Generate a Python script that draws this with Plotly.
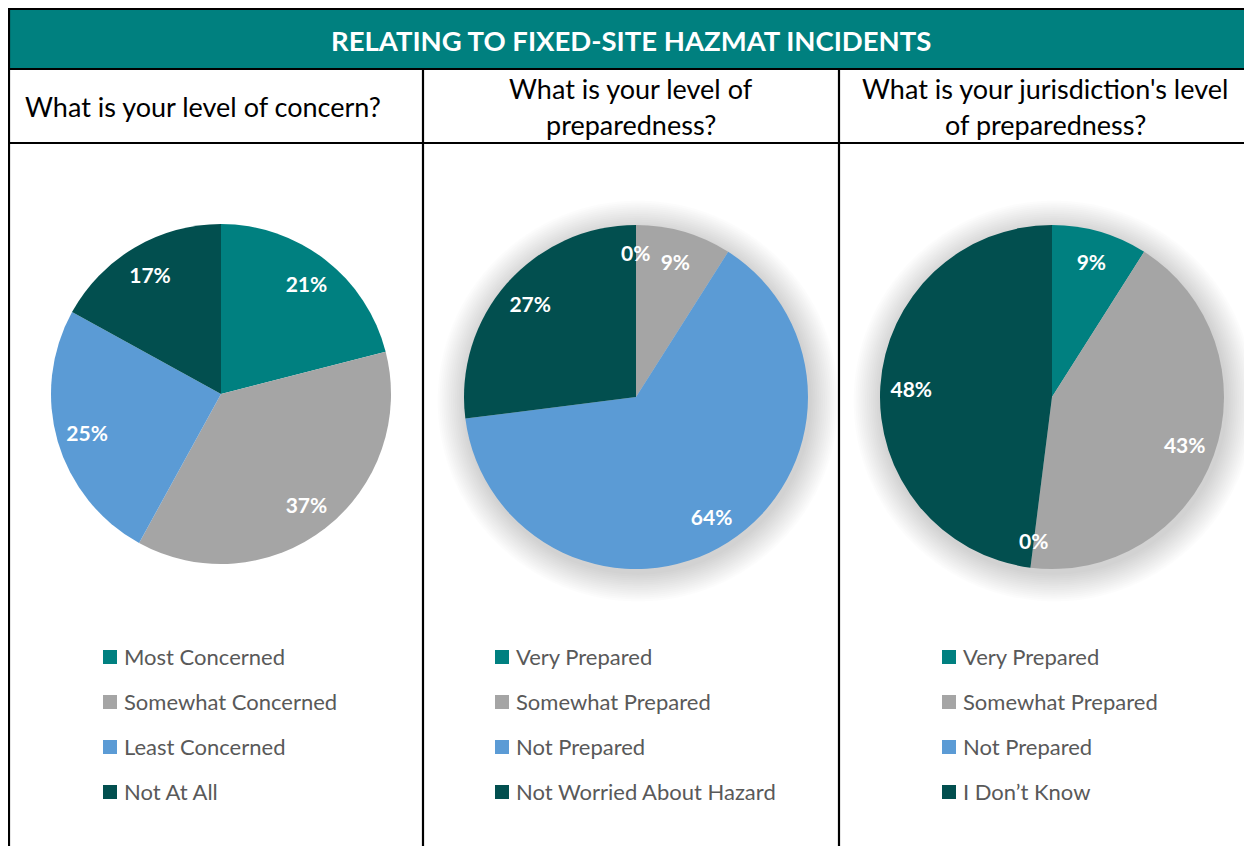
import math
import plotly.graph_objects as go

# page body has an 8px margin: the figure sits at (8, 8)
OFF = 8
W, H = 1244, 838

title_text = "RELATING TO FIXED-SITE HAZMAT INCIDENTS"
questions = [
    ["What is your level of concern?"],
    ["What is your level of", "preparedness?"],
    ["What is your jurisdiction's level", "of preparedness?"],
]

labels_concern = ["Most Concerned", "Somewhat Concerned", "Least Concerned", "Not At All"]
values_concern = [21, 37, 25, 17]

labels_personal = ["Very Prepared", "Somewhat Prepared", "Not Prepared", "Not Worried About Hazard"]
values_personal = [0, 9, 64, 27]

labels_jurisdiction = ["Very Prepared", "Somewhat Prepared", "Not Prepared", "I Don\u2019t Know"]
values_jurisdiction = [9, 43, 0, 48]

colors = ["#008080", "#A5A5A5", "#5B9BD5", "#024F4F"]

FONT = "Lato"


def px(x):
    return (x - OFF) / W


def py(y):
    return 1 - (y - OFF) / H


fig = go.Figure()

pies = [
    dict(labels=labels_concern, values=values_concern, cx=221, cy=394, r=170, shadow=False),
    dict(labels=labels_personal, values=values_personal, cx=636, cy=397, r=172, shadow=True),
    dict(labels=labels_jurisdiction, values=values_jurisdiction, cx=1052, cy=397, r=172, shadow=True),
]

shapes = []
for p in pies:
    if not p["shadow"]:
        continue
    for k in range(15, 0, -1):
        rr = p["r"] + k * 1.9
        ox, oy = 2, 4
        shapes.append(dict(
            type="circle", xref="paper", yref="paper", layer="below",
            x0=px(p["cx"] + ox - rr), x1=px(p["cx"] + ox + rr),
            y0=py(p["cy"] + oy + rr), y1=py(p["cy"] + oy - rr),
            fillcolor="rgba(0,0,0,0.01)", line=dict(width=0),
        ))

annotations = []
LABEL_FONT = dict(family=FONT, size=21, color="white", weight="bold")

for p in pies:
    dom = dict(x=[px(p["cx"] - p["r"]), px(p["cx"] + p["r"])],
               y=[py(p["cy"] + p["r"]), py(p["cy"] - p["r"])])
    # coloured slices
    fig.add_trace(go.Pie(
        labels=p["labels"], values=p["values"],
        sort=False, direction="clockwise", rotation=0,
        marker=dict(colors=colors, line=dict(width=0)),
        textinfo="none", domain=dom, showlegend=False,
        hoverinfo="label+percent",
    ))
    # transparent ring carrying the percentage labels further out
    fig.add_trace(go.Pie(
        labels=p["labels"], values=p["values"], hole=0.64,
        sort=False, direction="clockwise", rotation=0,
        marker=dict(colors=["rgba(0,0,0,0)"] * len(p["values"]), line=dict(width=0)),
        texttemplate="%{percent:.0%}", textposition="inside",
        insidetextorientation="horizontal", textfont=LABEL_FONT,
        domain=dom, showlegend=False, hoverinfo="skip",
    ))
    # zero-valued slices: label at their (degenerate) angle
    total = sum(p["values"])
    cum = 0
    for v in p["values"]:
        if v == 0:
            ang = math.radians(cum / total * 360)
            rr = 0.84 * p["r"]
            annotations.append(dict(
                text="0%", x=px(p["cx"] + rr * math.sin(ang)), y=py(p["cy"] - rr * math.cos(ang)),
                xref="paper", yref="paper", showarrow=False,
                xanchor="center", yanchor="middle", font=LABEL_FONT))
        cum += v

# table frame
shapes.append(dict(type="rect", xref="paper", yref="paper", layer="below",
                   x0=px(8), x1=px(1253), y0=py(69), y1=py(9),
                   fillcolor="#00807F", line=dict(width=0)))
lw = 2.2
for (x0, y0, x1, y1) in [(8, 9, 1253, 9), (8, 69, 1253, 69), (8, 143, 1253, 143),
                         (9, 8, 9, 847), (423, 69, 423, 847), (839, 69, 839, 847)]:
    shapes.append(dict(type="line", xref="paper", yref="paper",
                       x0=px(x0), x1=px(x1), y0=py(y0), y1=py(y1),
                       line=dict(color="black", width=lw)))

annotations.append(dict(text=title_text, x=px(631), y=py(40), xref="paper", yref="paper",
                        showarrow=False, xanchor="center", yanchor="middle",
                        font=dict(family=FONT, size=27.5, color="white", weight="bold")))

annotations.append(dict(text=questions[0][0], x=px(23), y=py(107), xref="paper", yref="paper",
                        showarrow=False, xanchor="left", yanchor="middle",
                        font=dict(family=FONT, size=27, color="black")))
for qi, cx in [(1, 631), (2, 1045)]:
    for li, line in enumerate(questions[qi]):
        annotations.append(dict(text=line, x=px(cx), y=py(89 + 36 * li), xref="paper", yref="paper",
                                showarrow=False, xanchor="center", yanchor="middle",
                                font=dict(family=FONT, size=27, color="black")))

legend_x = [103, 495, 942]
for p, lx in zip(pies, legend_x):
    for i, lab in enumerate(p["labels"]):
        yc = 657 + 45 * i
        shapes.append(dict(type="rect", xref="paper", yref="paper",
                           x0=px(lx), x1=px(lx + 14), y0=py(yc + 7), y1=py(yc - 7),
                           fillcolor=colors[i], line=dict(width=0)))
        annotations.append(dict(text=lab, x=px(lx + 19), y=py(yc - 1), xref="paper", yref="paper",
                                showarrow=False, xanchor="left", yanchor="middle",
                                font=dict(family=FONT, size=22, color="#595959")))

fig.update_layout(
    width=W, height=H, margin=dict(l=0, r=0, t=0, b=0),
    paper_bgcolor="white", plot_bgcolor="white",
    shapes=shapes, annotations=annotations, showlegend=False,
)

fig.write_html("out.html")
